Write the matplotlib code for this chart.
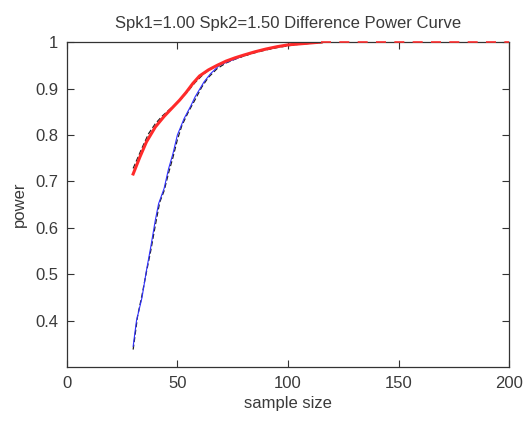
import matplotlib
matplotlib.use("Agg")
import matplotlib.pyplot as plt

# sample sizes and power
x_red = [30, 33, 36, 40, 44, 48, 51, 54, 57, 60, 64, 68, 72, 76, 80, 85, 90, 95, 100, 105, 110, 115]
y_red = [0.716, 0.752, 0.785, 0.817, 0.840, 0.860, 0.875, 0.892, 0.911, 0.927, 0.940, 0.950,
         0.959, 0.966, 0.972, 0.979, 0.985, 0.990, 0.994, 0.996, 0.998, 1.0]

x_blue = [30, 31.5, 34, 36, 38, 40, 41.5, 44, 46, 48, 50, 53, 56, 58, 62, 65, 69, 73, 77, 80,
          85, 90, 95, 100, 105, 110, 115]
y_blue = [0.345, 0.400, 0.450, 0.508, 0.560, 0.616, 0.652, 0.685, 0.727, 0.760, 0.800, 0.835,
          0.862, 0.882, 0.914, 0.932, 0.950, 0.958, 0.965, 0.971, 0.979, 0.985, 0.990, 0.994,
          0.996, 0.998, 1.0]

x_blk1 = [30, 32, 34, 37, 40, 43, 46, 50, 54, 58, 62, 66, 70, 75, 80, 85, 90, 95, 100, 106, 112, 118]
y_blk1 = [0.728, 0.750, 0.772, 0.803, 0.824, 0.840, 0.853, 0.869, 0.890, 0.913, 0.932, 0.945,
          0.955, 0.963, 0.970, 0.977, 0.983, 0.988, 0.992, 0.996, 0.998, 1.0]

x_blk2 = [30, 32, 34, 36, 38, 40, 42, 44, 46, 48, 50, 52, 55, 58, 61, 64, 68, 72, 76, 80, 85,
          90, 95, 100, 106, 112, 118]
y_blk2 = [0.338, 0.410, 0.455, 0.505, 0.552, 0.605, 0.655, 0.680, 0.718, 0.752, 0.790, 0.820,
          0.850, 0.876, 0.903, 0.924, 0.943, 0.955, 0.963, 0.970, 0.978, 0.984, 0.989, 0.993,
          0.996, 0.998, 1.0]

x_flat = [115, 200]
y_flat = [1.0, 1.0]

txt = "#3a3a3a"
plt.rcParams["font.family"] = ["Liberation Sans", "DejaVu Sans"]

fig = plt.figure(figsize=(5.26, 4.25), dpi=100)
ax = fig.add_axes([0.127, 0.136, 0.841, 0.765])

ax.plot(x_blk1, y_blk1, color="#222222", lw=0.9, ls=(0, (4, 2)))
ax.plot(x_blk2, y_blk2, color="#222222", lw=0.9, ls=(0, (4, 2)))
ax.plot(x_blue, y_blue, color="#3030ff", lw=0.8)
ax.plot(x_red, y_red, color="#ff2a2a", lw=2.2)
ax.plot(x_flat, y_flat, color="#ff3030", lw=1.2, ls=(0, (6, 5)), clip_on=False, zorder=5)

ax.set_xlim(0, 200)
ax.set_ylim(0.3, 1.0)
ax.set_xticks([0, 50, 100, 150, 200])
ax.set_yticks([0.4, 0.5, 0.6, 0.7, 0.8, 0.9, 1])
ax.set_yticklabels(["0.4", "0.5", "0.6", "0.7", "0.8", "0.9", "1"])
ax.tick_params(direction="in", length=5, top=True, right=True, labelsize=12,
               labelcolor=txt, color="#333333", pad=6)
for s in ax.spines.values():
    s.set_color("#333333")
    s.set_linewidth(0.9)

ax.set_title("Spk1=1.00 Spk2=1.50 Difference Power Curve", fontsize=12, color=txt, pad=10)
ax.set_xlabel("sample size", fontsize=12, color=txt, labelpad=4)
ax.set_ylabel("power", fontsize=12, color=txt, labelpad=6)

fig.savefig("out.png", dpi=100)
